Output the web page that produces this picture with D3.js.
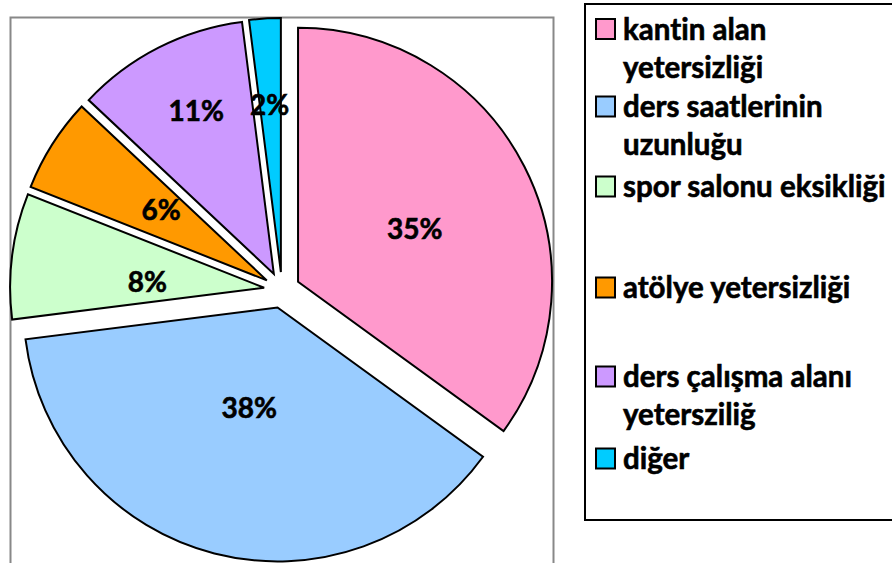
<!DOCTYPE html>
<html>
<head>
<meta charset="utf-8">
<script src="https://cdn.jsdelivr.net/npm/d3@7"></script>
<style>
  body { margin: 0; background: #fff; }
  text { font-family: Lato, "Open Sans", sans-serif; font-weight: bold; font-variant-ligatures: none; }
</style>
</head>
<body>
<div id="chart"></div>
<script>
// data
var categories = ["kantin alan yetersizliği", "ders saatlerinin uzunluğu", "spor salonu eksikliği",
                  "atölye yetersizliği", "ders çalışma alanı yetersziliğ", "diğer"];
var values = [35, 38, 8, 6, 11, 2];
var legendLines = [["kantin alan", "yetersizliği"], ["ders saatlerinin", "uzunluğu"], ["spor salonu eksikliği"],
                   ["atölye yetersizliği"], ["ders çalışma alanı", "yetersziliğ"], ["diğer"]];
var colors = ["#FF99CC", "#99CCFF", "#CCFFCC", "#FF9900", "#CC99FF", "#00CCFF"];

var width = 892, height = 563;
var cx = 282, cy = 290, radius = 254, explode = 18;
// percent label placement: distance (fraction of radius) from the slice tip, and a small turn off the mid-angle (degrees)
var labelFrac = [0.504, 0.413, 0.46, 0.5, 0.71, 0.66];
var labelTurn = [2.6, 1.2, -4.3, 1.2, 1.5, -0.3];
// first-line baselines of legend entries
var legendY = [39.5, 117, 197, 298, 387, 469];
var lineH = 38;

var svg = d3.select("#chart")
            .append("svg")
            .attr("width", width)
            .attr("height", height);

// plot area frame
svg.append("rect")
   .attr("x", 10.5).attr("y", 17.5)
   .attr("width", 543).attr("height", 600)
   .attr("fill", "none")
   .attr("stroke", "#888")
   .attr("stroke-width", 2);

var pie = d3.pie().sort(null).value(function(d) { return d; });
var arcs = pie(values);
var arc = d3.arc().innerRadius(0).outerRadius(radius);

function mid(d) { return (d.startAngle + d.endAngle) / 2; }

var g = svg.append("g").attr("transform", "translate(" + cx + "," + cy + ")");

var slices = g.selectAll(".slice")
   .data(arcs)
   .enter().append("g")
   .attr("class", "slice")
   .attr("transform", function(d) {
     var a = mid(d);
     return "translate(" + (explode * Math.sin(a)) + "," + (-explode * Math.cos(a)) + ")";
   });

slices.append("path")
   .attr("d", arc)
   .attr("fill", function(d, i) { return colors[i]; })
   .attr("stroke", "#000")
   .attr("stroke-width", 2)
   .attr("stroke-linejoin", "miter");

function labelAngle(d, i) { return mid(d) + labelTurn[i] * Math.PI / 180; }

slices.append("text")
   .attr("x", function(d, i) { return labelFrac[i] * radius * Math.sin(labelAngle(d, i)); })
   .attr("y", function(d, i) { return -labelFrac[i] * radius * Math.cos(labelAngle(d, i)) + 10; })
   .attr("text-anchor", "middle")
   .attr("font-size", 28)
   .attr("fill", "#000")
   .attr("stroke", "#000")
   .attr("stroke-width", 0.6)
   .text(function(d) { return d.value + "%"; });

// legend
var legend = svg.append("g");
legend.append("rect")
   .attr("x", 585).attr("y", 4)
   .attr("width", 330).attr("height", 516)
   .attr("fill", "#fff")
   .attr("stroke", "#000")
   .attr("stroke-width", 2);

var items = legend.selectAll(".item")
   .data(categories)
   .enter().append("g")
   .attr("class", "item")
   .attr("transform", function(d, i) { return "translate(0," + legendY[i] + ")"; });

items.append("rect")
   .attr("x", 596).attr("y", -20.5)
   .attr("width", 19).attr("height", 20)
   .attr("fill", function(d, i) { return colors[i]; })
   .attr("stroke", "#000")
   .attr("stroke-width", 2);

items.append("text")
   .attr("x", 623)
   .attr("font-size", 29.5)
   .attr("fill", "#000")
   .attr("stroke", "#000")
   .attr("stroke-width", 0.6)
   .selectAll("tspan")
   .data(function(d, i) { return legendLines[i]; })
   .enter().append("tspan")
   .attr("x", 623)
   .attr("y", function(d, j) { return j * lineH; })
   .text(function(d) { return d; });
</script>
</body>
</html>
